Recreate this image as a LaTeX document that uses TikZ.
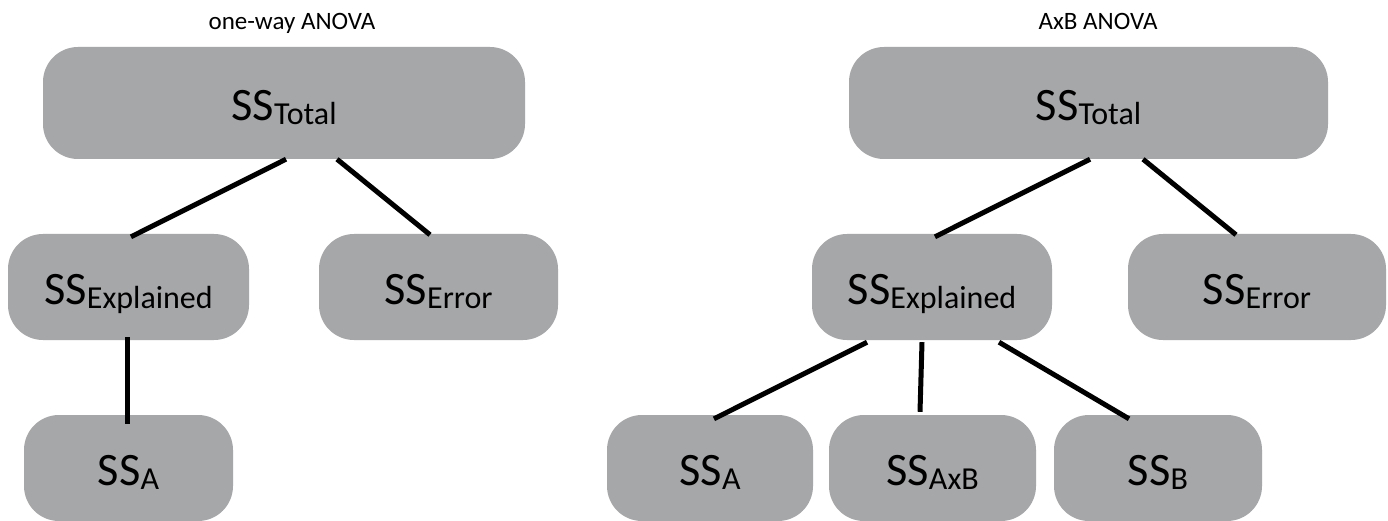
\documentclass[tikz,border=0pt]{standalone}
\usepackage{fontspec}
\setmainfont{Carlito}
\definecolor{boxgray}{RGB}{166,167,169}
\newcommand{\mysub}[1]{\raisebox{-4pt}{\fontsize{32}{32}\selectfont #1}}
\tikzset{
  box/.style={rectangle, rounded corners=35pt, fill=boxgray, draw=none, inner sep=0pt,
    text height=35pt, text depth=0pt, font=\fontsize{46.5}{46.5}\selectfont},
  conn/.style={line width=5pt, draw=black},
  ttl/.style={font=\fontsize{25}{25}\selectfont, inner sep=0pt, anchor=base}
}
\begin{document}
\begin{tikzpicture}[x=1pt,y=-1pt]
\fill[white] (0,0) rectangle (1388,521);
\useasboundingbox (0,0) rectangle (1388,521);
% titles
\node[ttl] (t1) at (292,30) {one-way ANOVA};
\node[ttl] (t2) at (1098,30) {AxB ANOVA};
% left tree
\node[box, minimum width=482pt, minimum height=112pt] (T1) at (284,103) {SS\mysub{Total}};
\node[box, minimum width=241pt, minimum height=106pt] (E1) at (128.5,287) {SS\mysub{Explained}};
\node[box, minimum width=239pt, minimum height=106pt] (R1) at (438.5,287) {SS\mysub{Error}};
\node[box, minimum width=209pt, minimum height=106pt] (A1) at (128.5,468) {SS\mysub{A}};
% right tree
\node[box, minimum width=479pt, minimum height=112pt] (T2) at (1088.5,103) {SS\mysub{Total}};
\node[box, minimum width=240pt, minimum height=106pt] (E2) at (932,287) {SS\mysub{Explained}};
\node[box, minimum width=258pt, minimum height=106pt] (R2) at (1257,287) {SS\mysub{Error}};
\node[box, minimum width=206pt, minimum height=106pt] (A2) at (710,468) {SS\mysub{A}};
\node[box, minimum width=207pt, minimum height=106pt] (AB) at (932.5,468) {SS\mysub{AxB}};
\node[box, minimum width=208pt, minimum height=106pt] (B2) at (1158,468) {SS\mysub{B}};
% connectors left
\draw[conn] ([xshift=2pt]T1.south) -- ([xshift=2.5pt,yshift=-3pt]E1.north);
\draw[conn] ([xshift=53pt]T1.south) -- ([xshift=-8.5pt,yshift=-1pt]R1.north);
\draw[conn] ([xshift=-1.5pt,yshift=3pt]E1.south) -- ([xshift=-1.5pt,yshift=-9pt]A1.north);
% connectors right
\draw[conn] ([xshift=1.5pt]T2.south) -- ([xshift=3pt,yshift=-3pt]E2.north);
\draw[conn] ([xshift=54.5pt]T2.south) -- ([xshift=-21pt,yshift=-1pt]R2.north);
\draw[conn] ([xshift=-65pt,yshift=-2pt]E2.south) -- ([xshift=4pt,yshift=-4pt]A2.north);
\draw[conn] ([xshift=-10pt,yshift=-2pt]E2.south) -- ([xshift=-12.5pt,yshift=3pt]AB.north);
\draw[conn] ([xshift=67pt,yshift=-2pt]E2.south) -- ([xshift=-29pt,yshift=-4pt]B2.north);
\end{tikzpicture}
\end{document}
